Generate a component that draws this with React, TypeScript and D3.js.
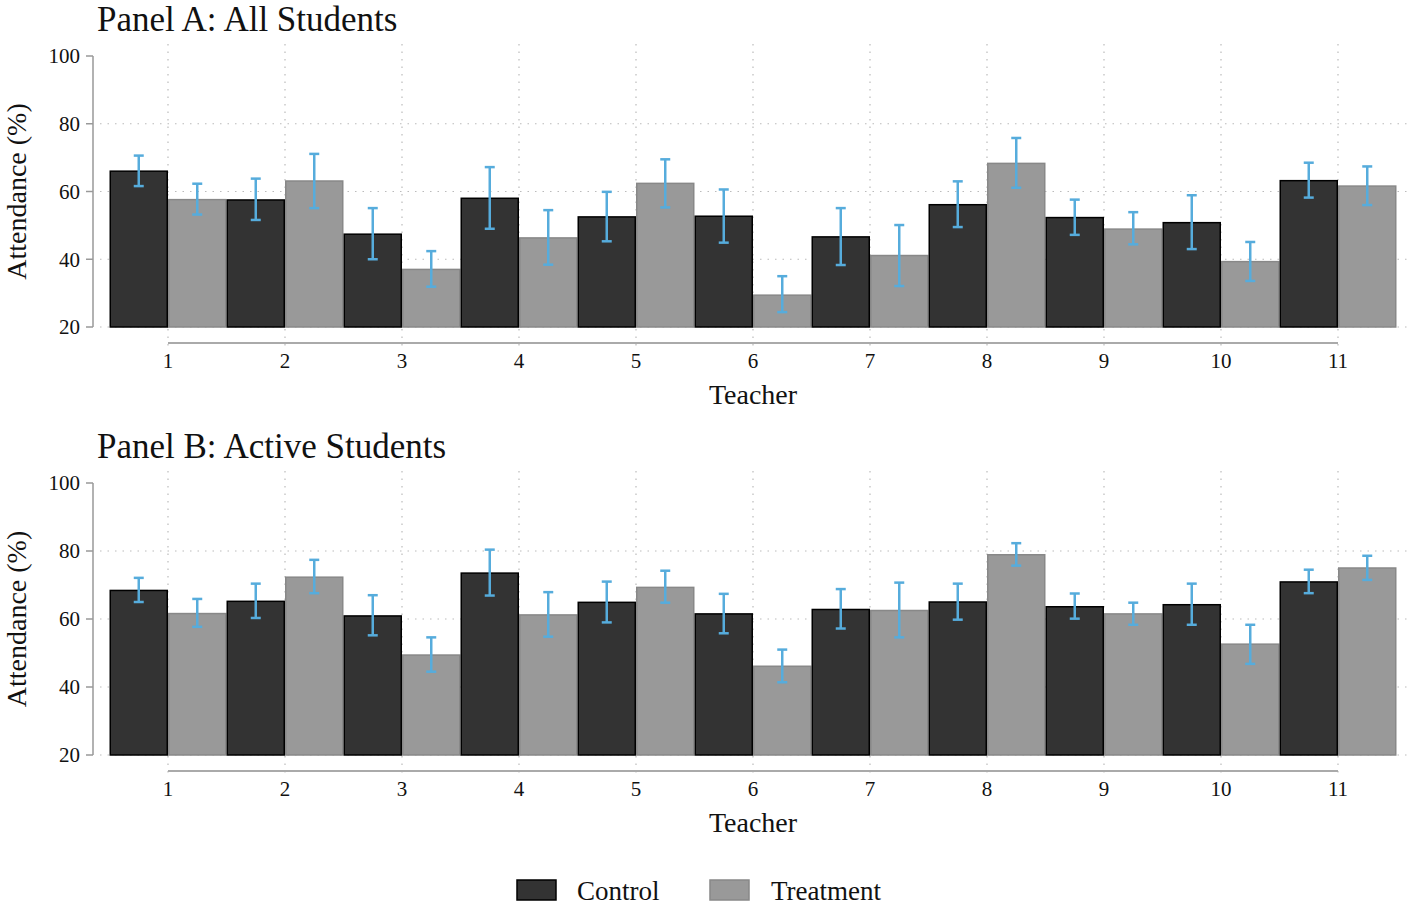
import React from "react";
import * as d3 from "d3";

const teachers = ["1", "2", "3", "4", "5", "6", "7", "8", "9", "10", "11"];
const yTicks = [20, 40, 60, 80, 100];

// Panel A: All Students
const aControl = [66.0, 57.5, 47.4, 58.0, 52.5, 52.7, 46.6, 56.1, 52.3, 50.8, 63.2];
const aControlLo = [61.6, 51.6, 40.0, 49.0, 45.3, 44.9, 38.3, 49.5, 47.2, 43.0, 58.2];
const aControlHi = [70.6, 63.8, 55.1, 67.2, 59.9, 60.6, 55.1, 63.0, 57.6, 58.9, 68.5];
const aTreat = [57.6, 63.1, 37.0, 46.3, 62.4, 29.4, 41.1, 68.3, 48.9, 39.3, 61.6];
const aTreatLo = [53.2, 55.1, 31.9, 38.4, 55.3, 24.4, 32.1, 61.1, 44.4, 33.6, 56.0];
const aTreatHi = [62.3, 71.1, 42.4, 54.5, 69.5, 35.0, 50.1, 75.8, 53.9, 45.1, 67.4];

// Panel B: Active Students
const bControl = [68.4, 65.2, 60.9, 73.5, 64.9, 61.5, 62.8, 65.0, 63.6, 64.2, 70.9];
const bControlLo = [65.0, 60.3, 55.2, 66.9, 59.0, 55.8, 57.2, 59.8, 60.1, 58.3, 67.6];
const bControlHi = [72.1, 70.4, 67.0, 80.4, 71.0, 67.4, 68.8, 70.4, 67.5, 70.4, 74.5];
const bTreat = [61.6, 72.3, 49.4, 61.2, 69.3, 46.1, 62.5, 78.9, 61.5, 52.6, 75.0];
const bTreatLo = [57.7, 67.6, 44.5, 54.8, 64.8, 41.4, 54.6, 75.7, 58.3, 46.8, 71.5];
const bTreatHi = [65.9, 77.4, 54.6, 67.9, 74.2, 51.0, 70.7, 82.3, 64.8, 58.3, 78.6];

const FONT = "'Liberation Serif', 'Times New Roman', serif";
const CONTROL_FILL = "#333333";
const TREAT_FILL = "#999999";
const ERR = "#56acdc";

type PanelProps = {
  title: string;
  top: number; // y of value 100
  bottom: number; // y of value 20
  control: number[];
  controlLo: number[];
  controlHi: number[];
  treat: number[];
  treatLo: number[];
  treatHi: number[];
};

const xScale = d3.scalePoint<string>().domain(teachers).range([168, 1338]);
const step = xScale.step();
const barW = step / 2;

function Panel(p: PanelProps) {
  const y = d3.scaleLinear().domain([20, 100]).range([p.bottom, p.top]);
  const axisY = p.bottom + 16;
  const cap = 5;
  const gridLeft = 100;
  const gridRight = 1412;
  return (
    <g>
      <text x={97} y={p.top - 25} fontFamily={FONT} fontSize={35} fill="#111">
        {p.title}
      </text>
      {/* horizontal grid */}
      {yTicks.filter((t) => t < 100).map((t) => (
        <line key={"hg" + t} x1={gridLeft} x2={gridRight} y1={y(t)} y2={y(t)}
          stroke="#bbb" strokeWidth={1.2} strokeDasharray="1.5,6" />
      ))}
      {/* vertical grid */}
      {teachers.map((t) => (
        <line key={"vg" + t} x1={xScale(t)} x2={xScale(t)} y1={p.top - 12} y2={axisY + 6}
          stroke="#bbb" strokeWidth={1.2} strokeDasharray="1.5,6" />
      ))}
      {/* y axis */}
      <line x1={93} x2={93} y1={p.top} y2={p.bottom} stroke="#999" strokeWidth={1.5} />
      {yTicks.map((t) => (
        <g key={"yt" + t}>
          <line x1={86} x2={93} y1={y(t)} y2={y(t)} stroke="#999" strokeWidth={1.5} />
          <text x={80} y={y(t)} dy="0.35em" textAnchor="end" fontFamily={FONT} fontSize={21} fill="#111">
            {t}
          </text>
        </g>
      ))}
      <text transform={`translate(26,${(p.top + p.bottom) / 2}) rotate(-90)`} textAnchor="middle"
        fontFamily={FONT} fontSize={28} fill="#111">
        Attendance (%)
      </text>
      {/* bars */}
      {teachers.map((t, i) => {
        const cx = xScale(t) as number;
        return (
          <g key={"b" + t}>
            <rect x={cx - barW + 0.75} y={y(p.control[i])} width={barW - 1.5}
              height={p.bottom - y(p.control[i])} fill={CONTROL_FILL} stroke="#000" strokeWidth={1.5} />
            <rect x={cx + 0.75} y={y(p.treat[i])} width={barW - 1.5}
              height={p.bottom - y(p.treat[i])} fill={TREAT_FILL} stroke="#888" strokeWidth={1.5} />
          </g>
        );
      })}
      {/* error bars */}
      {teachers.map((t, i) => {
        const cx = xScale(t) as number;
        const c1 = cx - barW / 2;
        const c2 = cx + barW / 2;
        return (
          <g key={"e" + t} stroke={ERR} strokeWidth={2.5} fill="none">
            <line x1={c1} x2={c1} y1={y(p.controlLo[i])} y2={y(p.controlHi[i])} />
            <line x1={c1 - cap} x2={c1 + cap} y1={y(p.controlLo[i])} y2={y(p.controlLo[i])} />
            <line x1={c1 - cap} x2={c1 + cap} y1={y(p.controlHi[i])} y2={y(p.controlHi[i])} />
            <line x1={c2} x2={c2} y1={y(p.treatLo[i])} y2={y(p.treatHi[i])} />
            <line x1={c2 - cap} x2={c2 + cap} y1={y(p.treatLo[i])} y2={y(p.treatLo[i])} />
            <line x1={c2 - cap} x2={c2 + cap} y1={y(p.treatHi[i])} y2={y(p.treatHi[i])} />
          </g>
        );
      })}
      {/* x axis */}
      <line x1={xScale(teachers[0])} x2={xScale(teachers[teachers.length - 1])} y1={axisY} y2={axisY}
        stroke="#aaa" strokeWidth={2} />
      {teachers.map((t) => (
        <text key={"xt" + t} x={xScale(t)} y={axisY + 25} textAnchor="middle" fontFamily={FONT}
          fontSize={21} fill="#111">
          {t}
        </text>
      ))}
      <text x={753} y={axisY + 61} textAnchor="middle" fontFamily={FONT} fontSize={28} fill="#111">
        Teacher
      </text>
    </g>
  );
}

export default function App() {
  return (
    <svg width={1416} height={911} style={{ position: "absolute", left: 0, top: 0, background: "#fff" }}>
      <rect x={0} y={0} width={1416} height={911} fill="#fff" />
      <Panel title="Panel A: All Students" top={56} bottom={327}
        control={aControl} controlLo={aControlLo} controlHi={aControlHi}
        treat={aTreat} treatLo={aTreatLo} treatHi={aTreatHi} />
      <Panel title="Panel B: Active Students" top={483} bottom={755}
        control={bControl} controlLo={bControlLo} controlHi={bControlHi}
        treat={bTreat} treatLo={bTreatLo} treatHi={bTreatHi} />
      {/* legend */}
      <rect x={517} y={880} width={39} height={20} fill={CONTROL_FILL} stroke="#000" strokeWidth={1.5} />
      <text x={577} y={891} dy="0.35em" fontFamily={FONT} fontSize={27} fill="#111">Control</text>
      <rect x={710} y={880} width={39} height={20} fill={TREAT_FILL} stroke="#888" strokeWidth={1.5} />
      <text x={771} y={891} dy="0.35em" fontFamily={FONT} fontSize={27} fill="#111">Treatment</text>
    </svg>
  );
}
